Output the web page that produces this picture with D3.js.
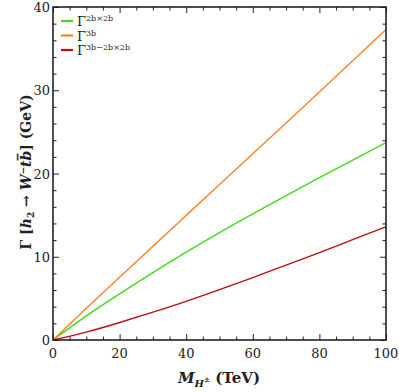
<!DOCTYPE html>
<html>
<head>
<meta charset="utf-8">
<script src="https://cdn.jsdelivr.net/npm/d3@7"></script>
<style>
  body { margin: 0; background: #fff; }
  svg text { font-family: "DejaVu Serif", serif; fill: #222; }
</style>
</head>
<body>
<svg id="chart"></svg>
<script>
const width = 399;
const height = 392;

// chart values
const masses = [0, 10, 20, 30, 40, 50, 60, 70, 80, 90, 100];
const gamma3b = [0, 3.8, 7.55, 11.27, 14.97, 18.67, 22.37, 26.07, 29.8, 33.55, 37.3];
const gamma2bx2b = [0, 2.9, 5.55, 8.1, 10.55, 12.9, 15.15, 17.35, 19.5, 21.6, 23.7];
const gammaDiff = [0, 0.95, 2.1, 3.35, 4.65, 6.05, 7.5, 9.0, 10.5, 12.05, 13.6];
const xTicks = [0, 20, 40, 60, 80, 100];
const yTicks = [0, 10, 20, 30, 40];

const series = [
    { name: "2b×2b", values: gamma2bx2b, color: "#3fdc16" },
    { name: "3b", values: gamma3b, color: "#ff8126" },
    { name: "3b−2b×2b", values: gammaDiff, color: "#b80f12" }
];

const margin = { top: 7, right: 13, bottom: 52, left: 53 };
const innerW = width - margin.left - margin.right;
const innerH = height - margin.top - margin.bottom;

const svg = d3.select("#chart")
    .attr("width", width)
    .attr("height", height);

const g = svg.append("g")
    .attr("transform", `translate(${margin.left},${margin.top})`);

const x = d3.scaleLinear().domain([0, 100]).range([0, innerW]);
const y = d3.scaleLinear().domain([0, 40]).range([innerH, 0]);

const xMinor = d3.range(0, 101, 5);
const yMinor = d3.range(0, 41, 2);

function cleanAxis(sel) {
    sel.selectAll(".domain").remove();
    sel.selectAll("line").attr("stroke", "#222").attr("stroke-width", 1);
}

// inward ticks on all four sides
g.append("g").attr("transform", `translate(0,${innerH})`)
    .call(d3.axisTop(x).tickValues(xMinor).tickFormat("").tickSize(0))
    .call(s => s.selectAll(".tick line").attr("y2", d => xTicks.includes(d) ? -6 : -3.5))
    .call(cleanAxis);

g.append("g")
    .call(d3.axisBottom(x).tickValues(xMinor).tickFormat("").tickSize(0))
    .call(s => s.selectAll(".tick line").attr("y2", d => xTicks.includes(d) ? 6 : 3.5))
    .call(cleanAxis);

g.append("g")
    .call(d3.axisRight(y).tickValues(yMinor).tickFormat("").tickSize(0))
    .call(s => s.selectAll(".tick line").attr("x2", d => yTicks.includes(d) ? 6 : 3.5))
    .call(cleanAxis);

g.append("g").attr("transform", `translate(${innerW},0)`)
    .call(d3.axisLeft(y).tickValues(yMinor).tickFormat("").tickSize(0))
    .call(s => s.selectAll(".tick line").attr("x2", d => yTicks.includes(d) ? -6 : -3.5))
    .call(cleanAxis);

// tick labels
g.append("g").selectAll("text")
    .data(xTicks).enter().append("text")
    .attr("x", d => x(d))
    .attr("y", innerH + 18)
    .attr("text-anchor", "middle")
    .style("font-size", "13px")
    .text(d => d);

g.append("g").selectAll("text")
    .data(yTicks).enter().append("text")
    .attr("x", -3)
    .attr("y", d => y(d) + 5)
    .attr("text-anchor", "end")
    .style("font-size", "13px")
    .text(d => d);

// curves
const line = d3.line()
    .x((d, i) => x(masses[i]))
    .y(d => y(d))
    .curve(d3.curveNatural);

series.forEach(s => {
    g.append("path")
        .datum(s.values)
        .attr("fill", "none")
        .attr("stroke", s.color)
        .attr("stroke-width", 1.4)
        .attr("d", line);
});

// frame
g.append("rect")
    .attr("width", innerW)
    .attr("height", innerH)
    .attr("fill", "none")
    .attr("stroke", "#222")
    .attr("stroke-width", 1.6);

// legend
const legend = g.append("g").attr("transform", "translate(8,14)");
series.forEach((s, i) => {
    const row = legend.append("g").attr("transform", `translate(0,${i * 14.5})`);
    row.append("line")
        .attr("x1", 0).attr("x2", 12)
        .attr("y1", 0).attr("y2", 0)
        .attr("stroke", s.color)
        .attr("stroke-width", 2.2);
    const t = row.append("text")
        .attr("x", 16).attr("y", 5)
        .style("font-size", "13px");
    t.append("tspan").text("Γ");
    t.append("tspan")
        .attr("dy", -5)
        .style("font-size", "8px")
        .text(s.name);
});

// axis titles
const xt = svg.append("text")
    .attr("x", 219)
    .attr("y", 383)
    .attr("text-anchor", "middle")
    .style("font-size", "15px")
    .style("font-weight", "bold");
xt.append("tspan").style("font-style", "italic").text("M");
xt.append("tspan").attr("dy", 4).style("font-size", "10px").style("font-style", "italic").text("H");
xt.append("tspan").attr("dy", -5).style("font-size", "7px").text("±");
xt.append("tspan").attr("dy", 1).text(" (TeV)");

const yt = svg.append("text")
    .attr("transform", "translate(31,172) rotate(-90)")
    .attr("text-anchor", "middle")
    .style("font-size", "14px")
    .style("font-weight", "bold");
yt.append("tspan").text("Γ [");
yt.append("tspan").style("font-style", "italic").text("h");
yt.append("tspan").attr("dy", 3).style("font-size", "9px").text("2");
yt.append("tspan").attr("dy", -3).text(" → ");
yt.append("tspan").style("font-style", "italic").text("W");
yt.append("tspan").attr("dy", -5).style("font-size", "9px").text("−");
yt.append("tspan").attr("dy", 5).style("font-style", "italic").text("tb\u0305");
yt.append("tspan").text("] (GeV)");
</script>
</body>
</html>
